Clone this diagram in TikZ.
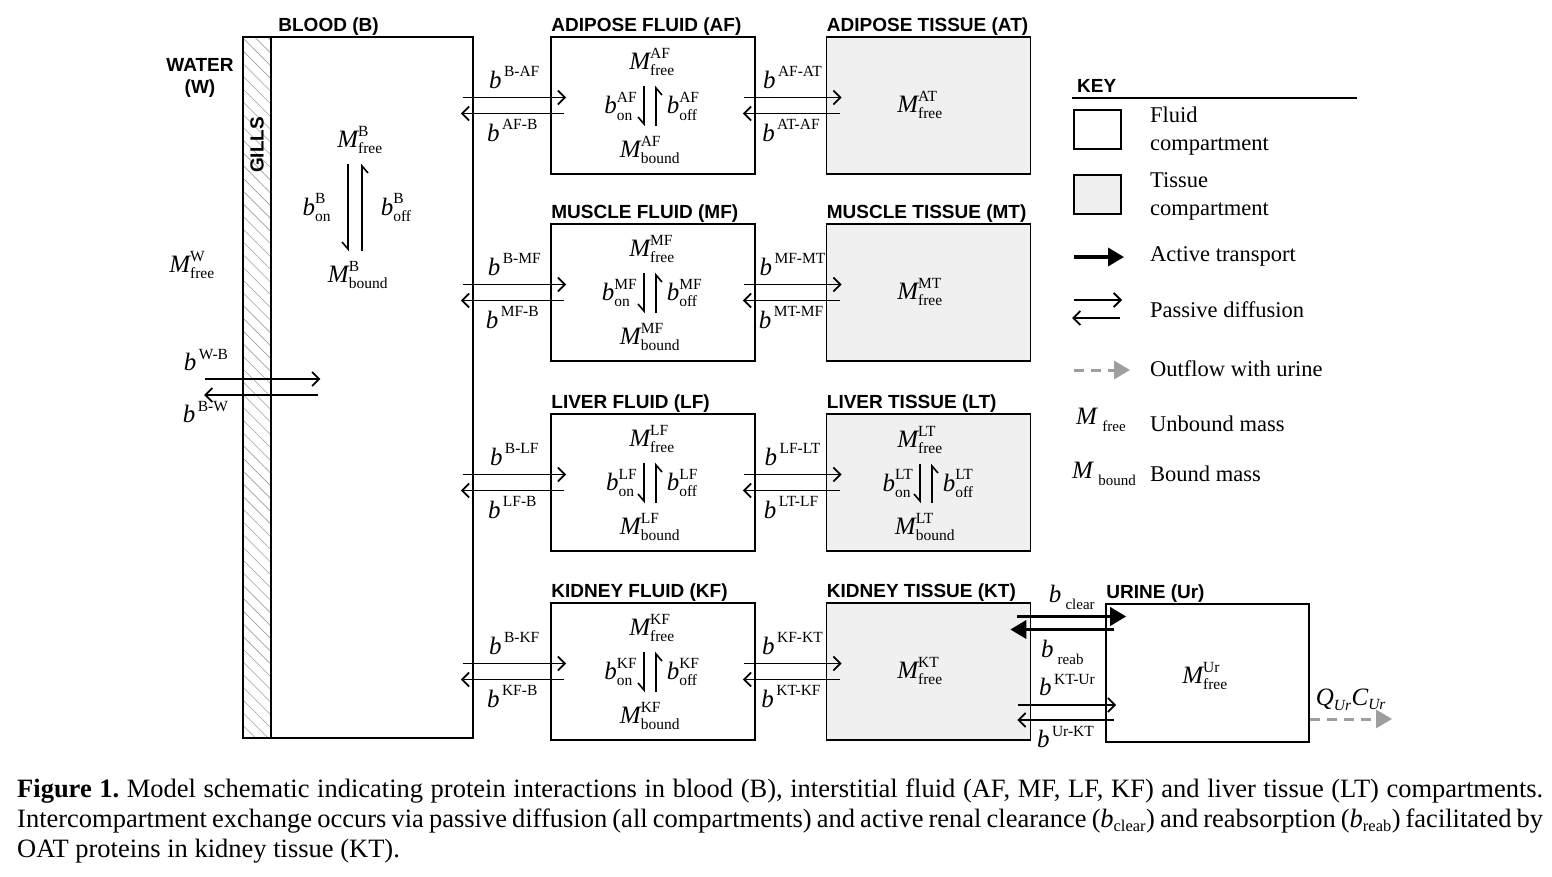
\documentclass[tikz,border=0pt]{standalone}
\usepackage{amsmath}
\usepackage{fontspec}
\setmainfont{Liberation Serif}
\newfontfamily\headfont{Liberation Sans}
\usetikzlibrary{arrows.meta,calc,patterns.meta}
\def\defaultscriptratio{.62}
\frenchspacing

\definecolor{tissuegray}{gray}{0.94}
\definecolor{urinegray}{gray}{0.62}

\newcommand{\Mass}[2]{$\textit{M}^{\text{#1}}_{\text{#2}}$}
\newcommand{\rate}[1]{$\textit{b}^{\,\text{#1}}$}
\newcommand{\bind}[2]{$\textit{b}^{\text{#1}}_{\text{#2}}$}
\newcommand{\lowsub}[2]{\textit{#1}\,\raisebox{-7pt}{\fontsize{15}{15}\selectfont #2}}

\tikzset{
  comp/.style={draw, line width=1.6pt, minimum width=204pt, minimum height=137pt, inner sep=0pt},
  tissue/.style={comp, fill=tissuegray},
  keybox/.style={draw, line width=1.6pt, minimum width=47pt, minimum height=39pt},
  head/.style={font=\headfont\bfseries\fontsize{19}{22}\selectfont, inner sep=0pt},
  title/.style={head, anchor=south west, inner sep=1pt},
  mass/.style={font=\fontsize{25}{27}\selectfont, inner sep=0pt},
  keytext/.style={font=\fontsize{22.5}{28}\selectfont, anchor=west, align=left, inner sep=0pt},
  passive/.style={line width=1.8pt, -{Straight Barb[length=7pt,width=14pt,line width=1.8pt]}},
  active/.style={line width=3.6pt, -{Triangle[length=16pt,width=18pt]}},
  outflow/.style={urinegray, line width=3pt, dash pattern=on 10pt off 7pt, -{Triangle[length=16pt,width=18pt]}},
  bindarrow/.style={line width=1.6pt, shorten <=10pt, shorten >=10pt, -{Straight Barb[right,length=7pt,width=12pt,line width=1.6pt]}},
}

\begin{document}
\begin{tikzpicture}[x=1pt,y=-1pt]
  \useasboundingbox (0,0) rectangle (1552,877);
  % water, gills and blood
  \node[head, align=center] (W) at (200,78) {WATER\\(W)};
  \node[mass] (W-free) at (192,265) {\Mass{W}{free}};
  \node[draw, line width=1.6pt, minimum width=28pt, minimum height=701pt,
    pattern={Lines[angle=-45,distance=9pt,line width=0.6pt]}, pattern color=gray!75] (G) at (257,387.5) {};
  \node[head, rotate=90] (gills) at (257,145) {GILLS};
  \node[comp, minimum width=202pt, minimum height=701pt] (B) at (372,387.5) {};
  \node[title] at ([xshift=7pt]B.north west) {BLOOD (B)};
  \node[mass] (B-free) at (360,140) {\Mass{B}{free}};
  \node[mass] (B-bound) at (358,275) {\Mass{B}{bound}};
  \coordinate (B-on) at (348,210);
  \coordinate (B-off) at (362,210);
  \draw[bindarrow] (B-on |- B-free.south) -- (B-on |- B-bound.north) node[midway,left=16pt,mass] {\bind{B}{on}};
  \draw[bindarrow] (B-off |- B-bound.north) -- (B-off |- B-free.south) node[midway,right=18pt,mass] {\bind{B}{off}};
  \coordinate (W-in) at (205,379);
  \coordinate (W-out) at (204,395);
  \draw[passive] (W-in) -- ($(W-in -| G.east)+(49,0)$) node[pos=0,anchor=south west,xshift=-22pt,yshift=7pt,mass] {\rate{W-B}};
  \draw[passive] ($(W-out -| G.east)+(47,0)$) -- (W-out) node[pos=1,anchor=north west,xshift=-22pt,yshift=-5pt,mass] {\rate{B-W}};

  % fluid and tissue rows
  \foreach \fl/\ts/\nm/\yy/\fy in {AF/AT/ADIPOSE/37/68, MF/MT/MUSCLE/224/68, LF/LT/LIVER/414/26, KF/KT/KIDNEY/603/68}{
    \node[comp] (\fl) at (653,\yy+68.5) {};
    \node[title] at (\fl.north west) {\nm\ FLUID (\fl)};
    \node[tissue] (\ts) at (928.5,\yy+68.5) {};
    \node[title] at (\ts.north west) {\nm\ TISSUE (\ts)};
    \node[mass] (\fl-free) at (652,\yy+25) {\Mass{\fl}{free}};
    \node[mass] (\fl-bound) at (650,\yy+113) {\Mass{\fl}{bound}};
    \node[mass] (\ts-free) at (920,\yy+\fy) {\Mass{\ts}{free}};
    \coordinate (\fl-on) at (644,\yy+68);
    \coordinate (\fl-off) at (656,\yy+68);
    \draw[bindarrow] (\fl-on |- \fl-free.south) -- (\fl-on |- \fl-bound.north) node[midway,left=6pt,mass] {\bind{\fl}{on}};
    \draw[bindarrow] (\fl-off |- \fl-bound.north) -- (\fl-off |- \fl-free.south) node[midway,right=10pt,mass] {\bind{\fl}{off}};
    \draw[passive] ($(B.east |- \fl.center)+(-11,-8)$) -- ($(\fl.west)+(16,-8)$) node[midway,above=8pt,mass] {\rate{B-\fl}};
    \draw[passive] ($(\fl.west)+(14,8)$) -- ($(B.east |- \fl.center)+(-13,8)$) node[midway,below=5pt,mass] {\rate{\fl-B}};
    \draw[passive] ($(\fl.east)+(-12,-8)$) -- ($(\ts.west)+(16,-8)$) node[midway,above=8pt,mass] {\rate{\fl-\ts}};
    \draw[passive] ($(\ts.west)+(14,8)$) -- ($(\fl.east)+(-13,8)$) node[midway,below=5pt,mass] {\rate{\ts-\fl}};
  }
  \node[mass] (LT-bound) at (925,527) {\Mass{LT}{bound}};
  \coordinate (LT-on) at (920,482);
  \coordinate (LT-off) at (932,482);
  \draw[bindarrow] (LT-on |- LT-free.south) -- (LT-on |- LT-bound.north) node[midway,left=6pt,mass] {\bind{LT}{on}};
  \draw[bindarrow] (LT-off |- LT-bound.north) -- (LT-off |- LT-free.south) node[midway,right=10pt,mass] {\bind{LT}{off}};

  % urine
  \node[comp, minimum width=203pt, minimum height=138pt] (Ur) at (1207.5,673) {};
  \node[title] at (Ur.north west) {URINE (Ur)};
  \node[mass] (Ur-free) at (1205,676) {\Mass{Ur}{free}};
  \draw[active] ($(KT.east)+(-14,-55)$) -- ($(KT.east -| Ur.west)+(21,-55)$) node[midway,above=5pt,mass] {\lowsub{b}{clear}};
  \draw[active] ($(KT.east -| Ur.west)+(9,-42)$) -- ($(KT.east)+(-21,-42)$) node[midway,below=9pt,mass] {\lowsub{b}{reab}};
  \draw[passive] ($(KT.east)+(-13,33.5)$) -- ($(KT.east -| Ur.west)+(11,33.5)$) node[midway,above=8pt,mass] {\rate{KT-Ur}};
  \draw[passive] ($(KT.east -| Ur.west)+(9,48.5)$) -- ($(KT.east)+(-14,48.5)$) node[midway,below=5pt,mass] {\rate{Ur-KT}};
  \coordinate (out) at (1392,719);
  \draw[outflow] (Ur.east |- out) -- (out) node[midway,above=7pt,mass,black] {$\textit{Q}_{\textit{Ur}}\textit{C}_{\textit{Ur}}$};

  % key
  \node[head, anchor=west] (key) at (1077,86) {KEY};
  \draw[line width=1.8pt] (1072,98) -- (1357,98);
  \node[keybox] (key-fluid) at (1097.5,129.5) {};
  \node[keytext] (key-fluid-text) at (1150,131) {Fluid\\compartment};
  \node[keybox, fill=tissuegray] (key-tissue) at (1097.5,194.5) {};
  \node[keytext] (key-tissue-text) at (1150,196.5) {Tissue\\compartment};
  \node[keytext] (key-active) at (1150,256) {Active transport};
  \draw[active] ($(key-active.west)+(-76,1)$) -- ($(key-active.west)+(-26,1)$);
  \node[keytext] (key-passive) at (1150,310) {Passive diffusion};
  \draw[passive] ($(key-passive.west)+(-76,-10)$) -- ($(key-passive.west)+(-28,-10)$);
  \draw[passive] ($(key-passive.west)+(-30,8)$) -- ($(key-passive.west)+(-78,8)$);
  \node[keytext] (key-outflow) at (1150,369) {Outflow with urine};
  \draw[outflow] ($(key-outflow.west)+(-76,1)$) -- ($(key-outflow.west)+(-20,1)$);
  \node[mass, anchor=west] (key-free) at (1076,420) {\lowsub{M}{free}};
  \node[keytext] (key-free-text) at (1150,424) {Unbound mass};
  \node[mass, anchor=west] (key-bound) at (1072,474) {\lowsub{M}{bound}};
  \node[keytext] (key-bound-text) at (1150,474) {Bound mass};

  % caption
  \node[anchor=north west, text width=1526pt, align=justify, inner sep=0pt,
    font=\fontsize{26.5}{30}\selectfont] (caption) at (17,779)
    {\textbf{Figure 1.} Model schematic indicating protein interactions in blood (B), interstitial fluid (AF, MF, LF, KF) and liver tissue (LT) compartments.\linebreak
    Intercompartment exchange occurs via passive diffusion (all compartments) and active renal clearance ($\textit{b}_{\text{clear}}$) and reabsorption ($\textit{b}_{\text{reab}}$) facilitated by\linebreak
    OAT proteins in kidney tissue (KT).};
\end{tikzpicture}
\end{document}
